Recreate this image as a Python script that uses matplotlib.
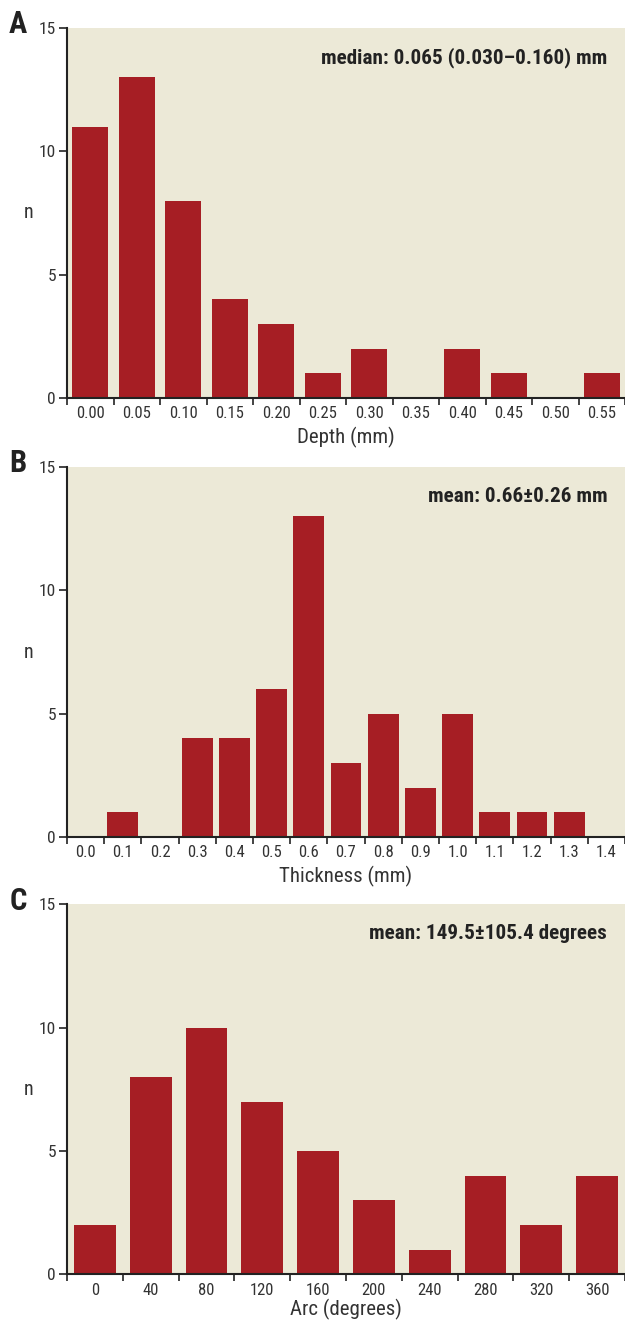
import matplotlib
matplotlib.use("Agg")
import matplotlib.pyplot as plt
from matplotlib import font_manager
import numpy as np

# pick a narrow face if one is installed
installed = {f.name for f in font_manager.fontManager.ttflist}
narrow = [f for f in ['Liberation Sans Narrow', 'Roboto Condensed',
                      'Open Sans Condensed', 'DejaVu Sans Condensed']
          if f in installed]
plt.rcParams['font.family'] = narrow + ['Roboto', 'DejaVu Sans']

# ---------------------------------------------------------------------
# Data
# ---------------------------------------------------------------------
depth_labels = ['0.00', '0.05', '0.10', '0.15', '0.20', '0.25', '0.30',
                '0.35', '0.40', '0.45', '0.50', '0.55']
depth_counts = [11, 13, 8, 4, 3, 1, 2, 0, 2, 1, 0, 1]

thick_labels = ['0.0', '0.1', '0.2', '0.3', '0.4', '0.5', '0.6', '0.7',
                '0.8', '0.9', '1.0', '1.1', '1.2', '1.3', '1.4']
thick_counts = [0, 1, 0, 4, 4, 6, 13, 3, 5, 2, 5, 1, 1, 1, 0]

arc_labels = ['0', '40', '80', '120', '160', '200', '240', '280', '320', '360']
arc_counts = [2, 8, 10, 7, 5, 3, 1, 4, 2, 4]

bar_color = '#A61E24'
bg_color = '#ECE9D7'

fig = plt.figure(figsize=(6.25, 13.24), dpi=100)

panels = [
    ('A', depth_labels, depth_counts, 'Depth (mm)',
     'median: 0.065 (0.030\u20130.160) mm', 0.6994, 0.78, 4),
    ('B', thick_labels, thick_counts, 'Thickness (mm)',
     'mean: 0.66\u00b10.26 mm', 0.3678, 0.83, 4),
    ('C', arc_labels, arc_counts, 'Arc (degrees)',
     'mean: 149.5\u00b1105.4 degrees', 0.0375, 0.75, 1),
]

for letter, labels, counts, xlabel, note, bottom, bw, lpad in panels:
    ax = fig.add_axes([0.1072, bottom, 0.8928, 0.2795])
    ax.set_facecolor(bg_color)
    x = np.arange(len(labels))
    ax.bar(x, counts, width=bw, color=bar_color, zorder=2)

    ax.set_xlim(-0.5, len(labels) - 0.5)
    ax.set_ylim(0, 15)
    ax.set_yticks([0, 5, 10, 15])

    ax.set_xticks(x)
    ax.set_xticklabels(labels, fontsize=12, color='#333333')
    ax.set_xticks(np.arange(len(labels) + 1) - 0.5, minor=True)
    ax.tick_params(axis='x', which='major', length=0, pad=6)
    ax.tick_params(axis='x', which='minor', length=5, width=1.2,
                   color='#222222')
    ax.tick_params(axis='y', length=6, width=1.2, color='#222222',
                   labelsize=12.5, labelcolor='#333333', pad=2)

    for side in ['top', 'right']:
        ax.spines[side].set_visible(False)
    for side in ['left', 'bottom']:
        ax.spines[side].set_linewidth(1.5)
        ax.spines[side].set_color('#222222')

    ax.set_xlabel(xlabel, fontsize=15, color='#333333', labelpad=lpad)
    ax.set_ylabel('n', fontsize=14.5, color='#333333', rotation=0,
                  labelpad=7, va='center')

    ax.text(0.968, 0.92, note, transform=ax.transAxes, ha='right',
            va='center', fontsize=15.2, fontweight='bold', color='#222222')
    ax.text(-0.088, 1.01, letter, transform=ax.transAxes, ha='center',
            va='center', fontsize=22, fontweight='bold', color='#222222')

fig.savefig('out.png', dpi=100, facecolor='white')
